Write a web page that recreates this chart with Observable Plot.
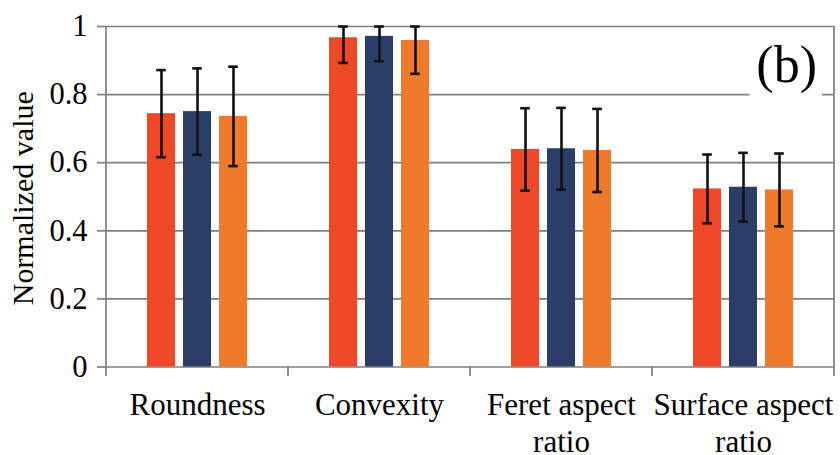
<!DOCTYPE html>
<html>
<head>
<meta charset="utf-8">
<script src="https://cdn.jsdelivr.net/npm/d3@7"></script>
<script src="https://cdn.jsdelivr.net/npm/@observablehq/plot@0.6"></script>
<style>
  html, body { margin: 0; padding: 0; background: #ffffff; }
  #chart { width: 840px; height: 455px; }
  #chart svg, #chart svg text, #chart svg g { font-family: 'Liberation Serif', 'Times New Roman', serif !important; }
</style>
</head>
<body>
<div id="chart"></div>
<script>
// Shape descriptors on the x axis
const categories = ["Roundness", "Convexity", "Feret aspect ratio", "Surface aspect ratio"];
const categoryLabels = ["Roundness", "Convexity", "Feret aspect\nratio", "Surface aspect\nratio"];

// Three measurement sets, drawn side by side in each group
const seriesNames = ["Set A", "Set B", "Set C"];
const seriesColors = ["#ee4828", "#2c3e68", "#f07a2c"];

// Mean normalized values per set
const meanA = [0.744, 0.967, 0.639, 0.523];
const meanB = [0.750, 0.971, 0.641, 0.528];
const meanC = [0.736, 0.959, 0.636, 0.520];

// Standard deviations per set
const sdA = [0.128, 0.074, 0.121, 0.101];
const sdB = [0.127, 0.073, 0.120, 0.101];
const sdC = [0.146, 0.098, 0.122, 0.107];

// Value axis ticks
const yTicks = [0, 0.2, 0.4, 0.6, 0.8, 1];
const yTickLabels = ["0", "0.2", "0.4", "0.6", "0.8", "1"];

const yTitle = "Normalized value";
const panelTag = "(b)";

const means = [meanA, meanB, meanC];
const sds = [sdA, sdB, sdC];
const rows = categories.flatMap((c, i) =>
  seriesNames.map((s, j) => ({
    category: c,
    series: s,
    value: means[j][i],
    lo: means[j][i] - sds[j][i],
    hi: means[j][i] + sds[j][i]
  }))
);

const gridColor = "#7f7f7f";
const font = "'Liberation Serif', 'Times New Roman', serif";

const chart = Plot.plot({
  width: 840,
  height: 455,
  marginLeft: 106,
  marginRight: 6,
  marginTop: 26,
  marginBottom: 88.5,
  style: { fontFamily: font, fontSize: "30px", background: "#ffffff", color: "#000000" },
  fx: {
    domain: categories,
    paddingInner: 0,
    paddingOuter: 0,
    label: null
  },
  x: { domain: seriesNames, paddingInner: 0.22, paddingOuter: 1.1, axis: null },
  y: { domain: [0, 1], clamp: true },
  color: { domain: seriesNames, range: seriesColors },
  marks: [
    Plot.gridY(yTicks, { stroke: gridColor, strokeOpacity: 1, strokeWidth: 1.7 }),
    Plot.barY(rows, { fx: "category", x: "series", y: "value", fill: "series", inset: 0 }),
    Plot.ruleX(rows, { fx: "category", x: "series", y1: "lo", y2: "hi", stroke: "#111111", strokeWidth: 2.6 }),
    Plot.tickY(rows, { fx: "category", x: "series", y: "hi", stroke: "#111111", strokeWidth: 2.6, insetLeft: 9.2, insetRight: 9.2 }),
    Plot.tickY(rows, { fx: "category", x: "series", y: "lo", stroke: "#111111", strokeWidth: 2.6, insetLeft: 9.2, insetRight: 9.2 }),
    Plot.axisY({
      ticks: yTicks,
      tickFormat: (d) => yTickLabels[yTicks.indexOf(d)],
      tickSize: 9,
      tickPadding: 10,
      stroke: gridColor,
      strokeWidth: 1.7,
      fill: "#000000",
      fontSize: 30.5,
      label: null
    }),
    Plot.axisFx({
      anchor: "bottom",
      tickSize: 0,
      tickPadding: 22,
      lineHeight: 1.18,
      fontSize: 31,
      fill: "#000000",
      tickFormat: (d) => categoryLabels[categories.indexOf(d)],
      label: null
    })
  ]
});

document.getElementById("chart").appendChild(chart);

// Frame sides and category boundary ticks, placed from the chart's own scales
const svg = d3.select(chart);
const fx = chart.scale("fx");
const ys = chart.scale("y");
const band = d3.scaleBand().domain(fx.domain).range(fx.range).paddingInner(0).paddingOuter(0);
const y0 = ys.apply(0);
const y1 = ys.apply(1);
const edges = [...fx.domain.map((c) => band(c)), band(fx.domain[fx.domain.length - 1]) + band.bandwidth()];
const deco = svg.append("g").attr("stroke", gridColor).attr("stroke-width", 1.7);
edges.forEach((x, i) => {
  const top = (i === 0 || i === edges.length - 1) ? y1 : y0;
  deco.append("line").attr("x1", x).attr("x2", x).attr("y1", top).attr("y2", y0 + 9.5);
});

// Value axis title, rotated along the left edge
svg.append("text")
  .attr("transform", `translate(33,${(y0 + y1) / 2 + 2}) rotate(-90)`)
  .attr("text-anchor", "middle")
  .style("font-family", font)
  .style("font-size", "30px")
  .attr("fill", "#000000")
  .text(yTitle);

// Panel tag in the upper right, on a white plate over the grid
const xRight = fx.range[1];
const tag = svg.append("g");
const plate = tag.append("rect").attr("fill", "#ffffff");
const tagText = tag.append("text")
  .attr("x", xRight - 17)
  .attr("y", y1 + 56)
  .attr("text-anchor", "end")
  .style("font-family", font)
  .style("font-size", "52px")
  .attr("fill", "#000000")
  .text(panelTag);
const bb = tagText.node().getBBox();
plate.attr("x", bb.x - 7).attr("y", bb.y - 2).attr("width", bb.width + 12).attr("height", bb.height + 6);
</script>
</body>
</html>
